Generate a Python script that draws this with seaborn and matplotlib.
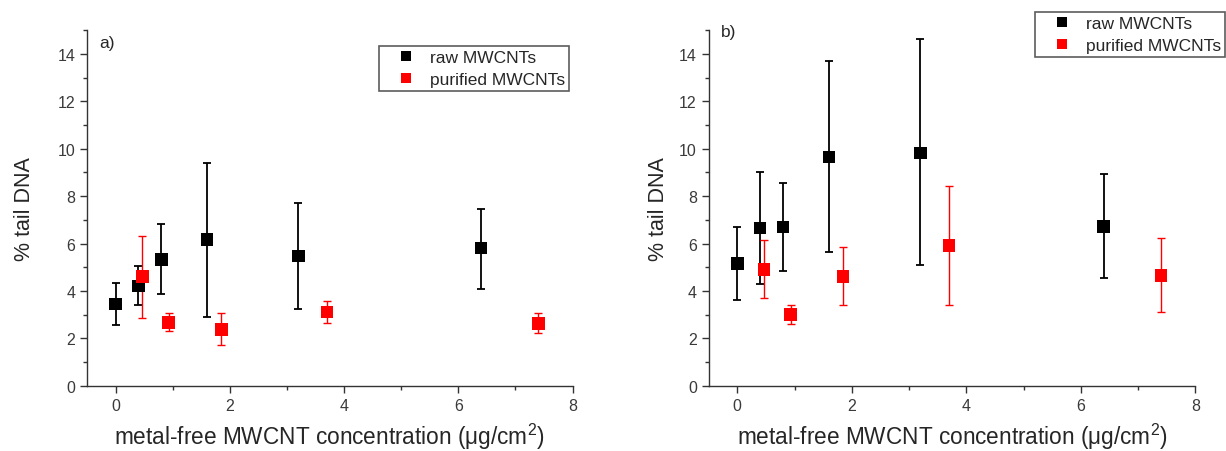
import matplotlib
matplotlib.use("Agg")
import matplotlib.pyplot as plt
import seaborn as sns
import pandas as pd
from matplotlib.ticker import MultipleLocator
from matplotlib.lines import Line2D

# ---- data ----
conc_raw = [0.0, 0.4, 0.8, 1.6, 3.2, 6.4]
conc_purified = [0.47, 0.93, 1.85, 3.7, 7.4]

a_raw_mean = [3.45, 4.21, 5.34, 6.18, 5.48, 5.81]
a_raw_low = [2.56, 3.43, 3.89, 2.91, 3.23, 4.10]
a_raw_high = [4.34, 5.06, 6.81, 9.40, 7.71, 7.47]
a_pur_mean = [4.62, 2.67, 2.39, 3.12, 2.63]
a_pur_low = [2.88, 2.30, 1.71, 2.65, 2.25]
a_pur_high = [6.32, 3.06, 3.09, 3.57, 3.06]

b_raw_mean = [5.15, 6.66, 6.70, 9.66, 9.83, 6.73]
b_raw_low = [3.62, 4.30, 4.83, 5.65, 5.08, 4.55]
b_raw_high = [6.69, 9.03, 8.57, 13.71, 14.63, 8.92]
b_pur_mean = [4.92, 3.01, 4.62, 5.91, 4.66]
b_pur_low = [3.71, 2.60, 3.41, 3.41, 3.10]
b_pur_high = [6.15, 3.41, 5.84, 8.41, 6.25]

series_labels = ["raw MWCNTs", "purified MWCNTs"]
panel_labels = ["a)", "b)"]
x_label = "metal-free MWCNT concentration ($\\mu$g/cm$^2$)"
y_label = "% tail DNA"

# ---- style ----
sns.set_theme(style="ticks")
plt.rcParams["font.family"] = ["Liberation Sans", "DejaVu Sans"]
plt.rcParams["mathtext.fontset"] = "custom"
plt.rcParams["mathtext.rm"] = "Liberation Sans"
plt.rcParams["mathtext.it"] = "Liberation Sans"

colors = {"raw MWCNTs": "black", "purified MWCNTs": "#ff0000"}

fig = plt.figure(figsize=(12.26, 4.52), dpi=100)
ax_a = fig.add_axes([0.071, 0.144, 0.396, 0.787])
ax_b = fig.add_axes([0.578, 0.144, 0.397, 0.787])

panels = [
    (ax_a, a_raw_mean, a_raw_low, a_raw_high, a_pur_mean, a_pur_low, a_pur_high),
    (ax_b, b_raw_mean, b_raw_low, b_raw_high, b_pur_mean, b_pur_low, b_pur_high),
]
legend_anchor = [(569 / 1226, 1 - 47 / 452), (1225 / 1226, 1 - 13 / 452)]
ylabel_pad = [16, 7]

for i, (ax, rm, rl, rh, pm, pl, ph) in enumerate(panels):
    df = pd.concat([
        pd.DataFrame({"conc": conc_raw, "tail": rm, "lo": rl, "hi": rh,
                      "series": series_labels[0]}),
        pd.DataFrame({"conc": conc_purified, "tail": pm, "lo": pl, "hi": ph,
                      "series": series_labels[1]}),
    ], ignore_index=True)

    for s, sub in df.groupby("series", sort=False):
        lw = 1.3 if s == series_labels[0] else 1.0
        ax.errorbar(sub["conc"], sub["tail"],
                    yerr=[sub["tail"] - sub["lo"], sub["hi"] - sub["tail"]],
                    fmt="none", ecolor=colors[s], elinewidth=lw,
                    capsize=3, capthick=lw, zorder=2)

    sns.scatterplot(data=df, x="conc", y="tail", hue="series",
                    palette=colors, marker="s", s=82, linewidth=0,
                    ax=ax, legend=False, zorder=3)

    ax.set_xlim(-0.5, 8)
    ax.set_ylim(0, 15)
    ax.xaxis.set_major_locator(MultipleLocator(2))
    ax.xaxis.set_minor_locator(MultipleLocator(1))
    ax.yaxis.set_major_locator(MultipleLocator(2))
    ax.yaxis.set_minor_locator(MultipleLocator(1))
    ax.tick_params(which="major", direction="out", length=5, width=1.0,
                   labelsize=11.5, labelcolor="#3a3a3a", color="#333333")
    ax.tick_params(which="minor", direction="out", length=3, width=1.0,
                   color="#333333")
    ax.set_xlabel(x_label, fontsize=16.3, labelpad=6)
    ax.set_ylabel(y_label, fontsize=15.5, labelpad=ylabel_pad[i])
    sns.despine(ax=ax)
    for sp in ["left", "bottom"]:
        ax.spines[sp].set_linewidth(1.0)
        ax.spines[sp].set_color("#333333")

    ax.text(0.025, 0.965 if i == 0 else 0.995, panel_labels[i],
            transform=ax.transAxes, fontsize=12.5, va="center", ha="left")

    handles = [Line2D([0], [0], marker="s", color="none",
                      markerfacecolor=colors[s], markeredgewidth=0,
                      markersize=7.5, label=s) for s in series_labels]
    leg = ax.legend(handles=handles, loc="upper right",
                    bbox_to_anchor=legend_anchor[i],
                    bbox_transform=fig.transFigure,
                    fontsize=12.5, frameon=True, fancybox=False,
                    handlelength=2.55, handletextpad=0.1,
                    borderpad=0.25, labelspacing=0.35,
                    borderaxespad=0.0)
    leg.get_frame().set_edgecolor("#333333")
    leg.get_frame().set_linewidth(1.2)

fig.savefig("out.png", dpi=100)
